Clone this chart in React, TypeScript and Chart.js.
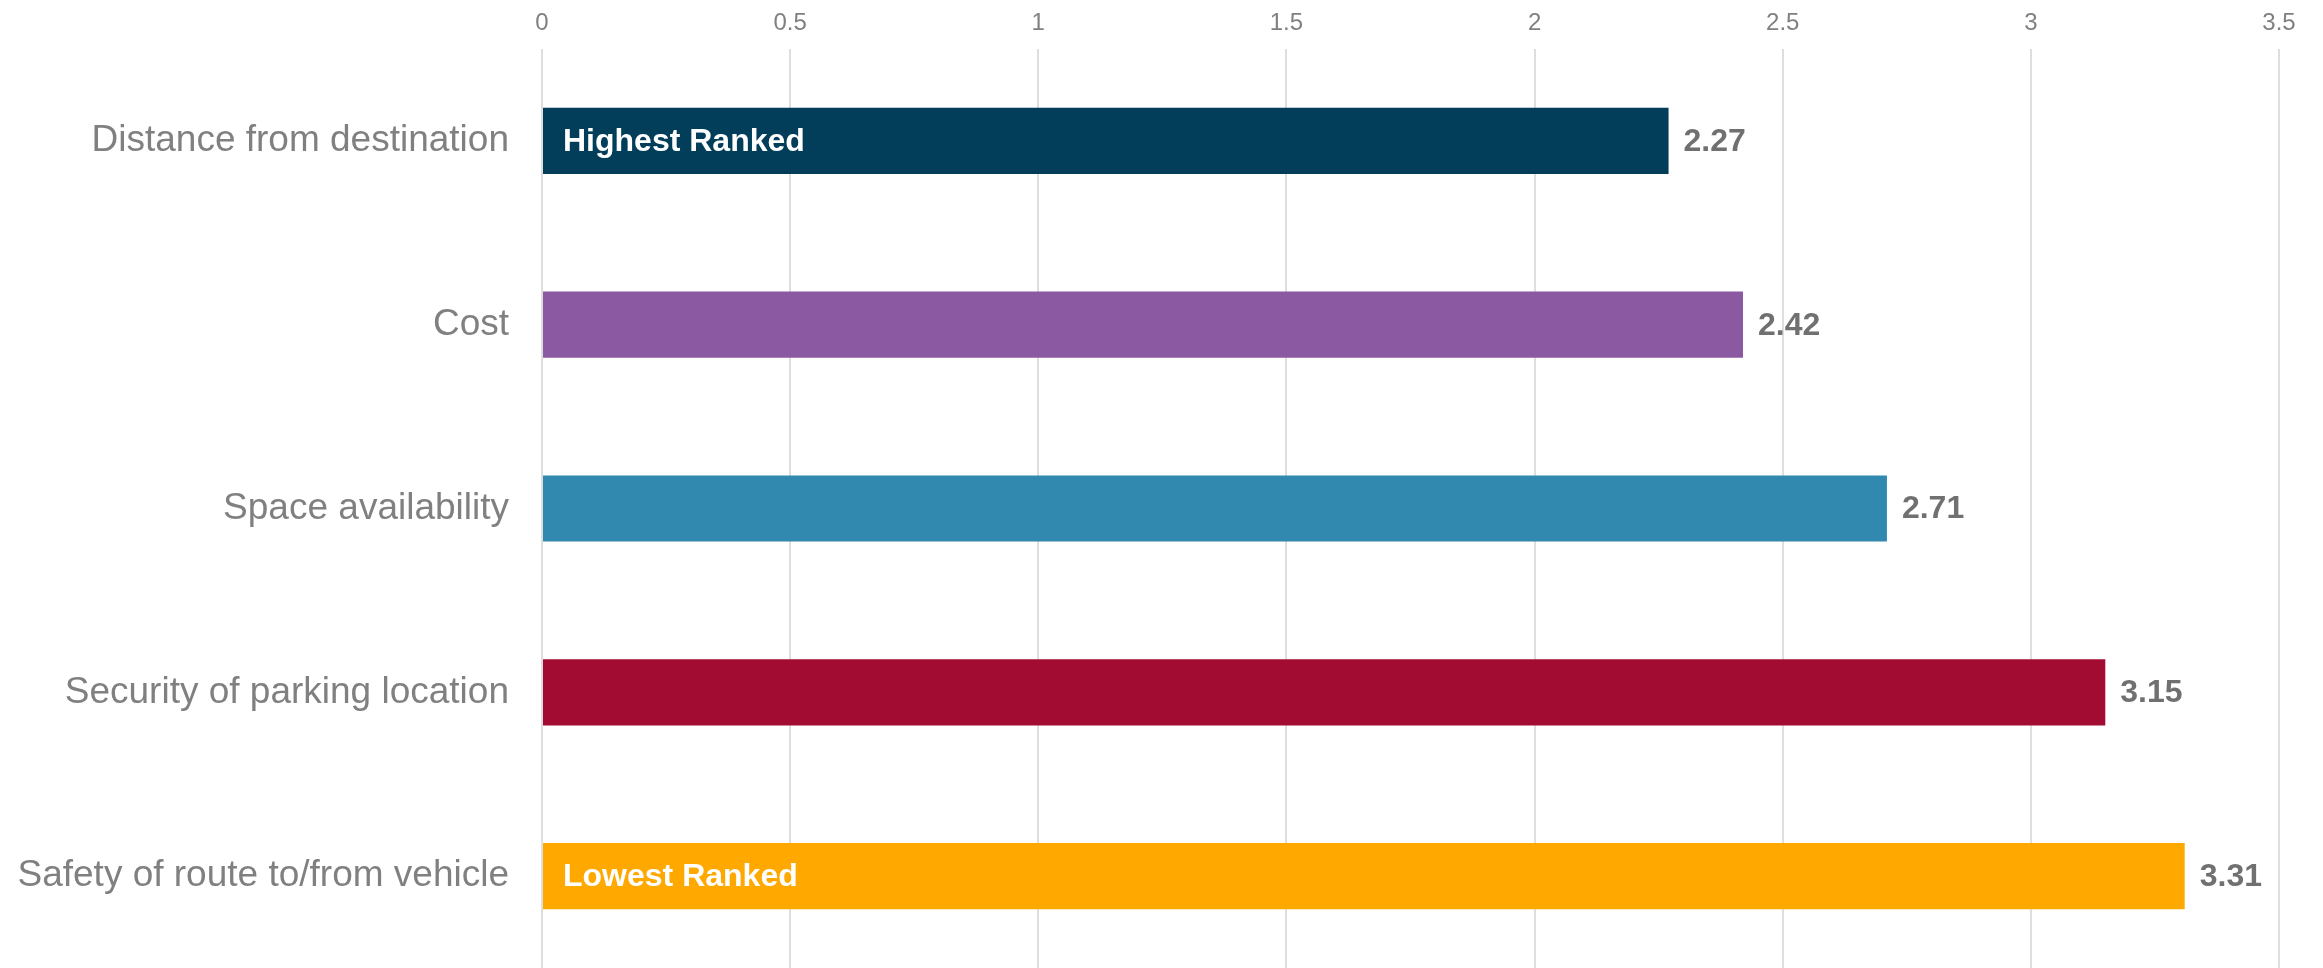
import React, { useEffect, useRef } from "react";
import { Chart, registerables } from "chart.js";

Chart.register(...registerables);

const categories = [
  "Distance from destination",
  "Cost",
  "Space availability",
  "Security of parking location",
  "Safety of route to/from vehicle",
];
const values = [2.27, 2.42, 2.71, 3.15, 3.31];
const barColors = ["#023E5A", "#8B59A1", "#3189B0", "#A20C32", "#FFA800"];
const innerLabels = ["Highest Ranked", "", "", "", "Lowest Ranked"];
const xMin = 0;
const xMax = 3.5;
const xStep = 0.5;

const FONT = "'Liberation Sans', Arial, sans-serif";
const W = 2323;
const H = 968;

const labelPlugin = {
  id: "barLabels",
  afterDatasetsDraw(chart: any) {
    const ctx = chart.ctx;
    const meta = chart.getDatasetMeta(0);
    ctx.save();
    ctx.textBaseline = "middle";
    meta.data.forEach((bar: any, i: number) => {
      ctx.font = `bold 32px ${FONT}`;
      ctx.fillStyle = "#707070";
      ctx.textAlign = "left";
      ctx.fillText(values[i].toFixed(2), bar.x + 15, bar.y + 1);
      if (innerLabels[i]) {
        ctx.fillStyle = "#FFFFFF";
        ctx.fillText(innerLabels[i], bar.base + 20, bar.y + 1);
      }
    });
    ctx.restore();
  },
};

export default function App() {
  const ref = useRef<HTMLCanvasElement | null>(null);
  useEffect(() => {
    if (!ref.current) return;
    const chart = new Chart(ref.current, {
      type: "bar",
      data: {
        labels: categories,
        datasets: [
          {
            data: values,
            backgroundColor: barColors,
            borderWidth: 0,
            barPercentage: 0.36,
            categoryPercentage: 1,
          },
        ],
      },
      plugins: [labelPlugin],
      options: {
        indexAxis: "y",
        animation: false,
        responsive: false,
        devicePixelRatio: 1,
        layout: { padding: { left: 0, right: 44, top: 0, bottom: 0 } },
        plugins: {
          legend: { display: false },
          tooltip: { enabled: false },
          title: { display: false },
        },
        scales: {
          x: {
            position: "top",
            min: xMin,
            max: xMax,
            ticks: {
              stepSize: xStep,
              padding: 11,
              color: "#808080",
              font: { family: FONT, size: 24 },
              callback: (v: any) => String(Number(v)),
            },
            grid: {
              color: "#DEDEDE",
              lineWidth: 2,
              drawTicks: false,
            },
            border: { display: false },
            afterFit: (scale: any) => {
              scale.height = 49;
              scale.paddingLeft = 0;
              scale.paddingRight = 0;
            },
          },
          y: {
            ticks: {
              padding: 33,
              color: "#808080",
              font: { family: FONT, size: 37 },
            },
            grid: { display: false, drawTicks: false },
            border: { display: false },
            afterFit: (scale: any) => {
              scale.width = 542;
              scale.paddingTop = 0;
              scale.paddingBottom = 0;
            },
          },
        },
      },
    } as any);
    return () => chart.destroy();
  }, []);
  return (
    <div
      style={{
        position: "absolute",
        left: 0,
        top: 0,
        width: W + "px",
        height: H + "px",
        background: "#fff",
        overflow: "hidden",
      }}
    >
      <canvas ref={ref} width={W} height={H} style={{ display: "block", width: W + "px", height: H + "px" }} />
    </div>
  );
}
